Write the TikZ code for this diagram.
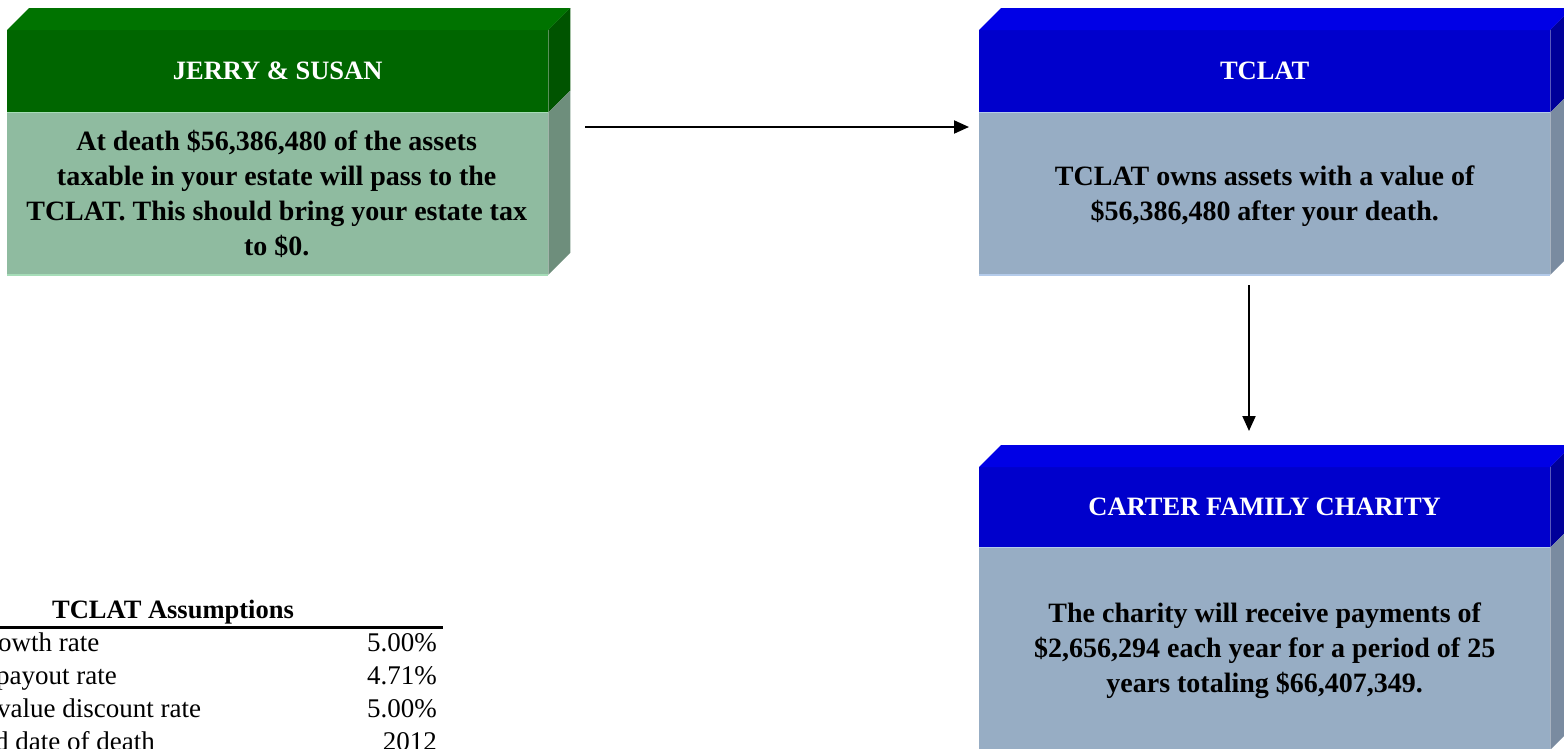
\documentclass[tikz,border=0pt]{standalone}
\usepackage{fontspec}
\setmainfont{Liberation Serif}
\usetikzlibrary{arrows.meta}
\definecolor{gtop}{HTML}{007300}
\definecolor{ghead}{HTML}{006600}
\definecolor{gheadside}{HTML}{005400}
\definecolor{gbody}{HTML}{8FBBA0}
\definecolor{gbodyside}{HTML}{6E8E7C}
\definecolor{gline}{HTML}{A6DDB8}
\definecolor{btop}{HTML}{0000E6}
\definecolor{bhead}{HTML}{0000CC}
\definecolor{bheadside}{HTML}{000099}
\definecolor{bbody}{HTML}{97ADC4}
\definecolor{bbodyside}{HTML}{7A8BA0}
\definecolor{bline}{HTML}{B4CBEA}
\tikzset{
  hdr/.style={inner sep=0pt, minimum width=541pt, minimum height=82pt, anchor=north west,
    text=white, font=\bfseries\fontsize{26.5}{32}\selectfont},
  bodybox/.style={inner sep=0pt, anchor=north west},
  bodytxt/.style={inner sep=0pt, align=center,
    text=black, font=\bfseries\fontsize{28}{35}\selectfont},
  conn/.style={line width=2pt, -{Triangle[length=15pt,width=13pt]}},
  tabtxt/.style={inner sep=0pt, font=\fontsize{27}{32}\selectfont},
  tabtitle/.style={inner sep=0pt, font=\bfseries\fontsize{26.5}{32}\selectfont},
}
\newcommand{\boxfaces}[6]{%
  % #1 header node, #2 body node, #3 top, #4 headside, #5 bodyside, #6 line
  \fill[#3] (#1.north west) -- ++(22,-22) -- ([shift={(22,-22)}]#1.north east) -- (#1.north east) -- cycle;
  \fill[#4] (#1.north east) -- ++(22,-22) -- ([shift={(22,-22)}]#1.south east) -- (#1.south east) -- cycle;
  \fill[#5] (#2.north east) -- ++(22,-22) -- ([shift={(22,-22)}]#2.south east) -- (#2.south east) -- cycle;
  \draw[#6, line width=1.5pt] (#2.north west) -- (#2.north east);
  \draw[#6, line width=1.5pt] (#2.south west) -- (#2.south east);
}
\begin{document}
\begin{tikzpicture}[x=1pt, y=-1pt]
\useasboundingbox (0,0) rectangle (1564,748);
\clip (0,0) rectangle (1564,748);
\fill[white] (0,0) rectangle (1564,748);

% Box 1: JERRY & SUSAN
\node[hdr, fill=ghead] (jh) at (7,30) {JERRY \& SUSAN};
\node[bodybox, fill=gbody, minimum width=541pt, minimum height=162pt] (jb) at (jh.south west) {};
\boxfaces{jh}{jb}{gtop}{gheadside}{gbodyside}{gline}
\node[bodytxt] (jt) at ([xshift=-1pt]jb.center)
  {At death \$56,386,480 of the assets\\taxable in your estate will pass to the\\TCLAT. This should bring your estate tax\\to \$0.};

% Box 2: TCLAT
\node[hdr, fill=bhead, minimum width=571pt] (th) at (979,30) {TCLAT};
\node[bodybox, fill=bbody, minimum width=571pt, minimum height=162pt] (tb) at (th.south west) {};
\boxfaces{th}{tb}{btop}{bheadside}{bbodyside}{bline}
\node[bodytxt] (tt2) at ([yshift=-2.5pt]tb.center)
  {TCLAT owns assets with a value of\\\$56,386,480 after your death.};

% Box 3: CARTER FAMILY CHARITY
\node[hdr, fill=bhead, minimum width=571pt, minimum height=80pt] (ch) at (979,467) {CARTER FAMILY CHARITY};
\node[bodybox, fill=bbody, minimum width=571pt, minimum height=202pt] (cb) at (ch.south west) {};
\boxfaces{ch}{cb}{btop}{bheadside}{bbodyside}{bline}
\node[bodytxt] (ct) at ([yshift=-2.5pt]cb.center)
  {The charity will receive payments of\\\$2,656,294 each year for a period of 25\\years totaling \$66,407,349.};

% Connectors
\coordinate (a1s) at (585,127);
\coordinate (a1e) at (969,127);
\coordinate (a2s) at (1249,285);
\coordinate (a2e) at (1249,431);
\draw[conn] (a1s) -- (a1e);
\draw[conn] (a2s) -- (a2e);

% Table
\node[tabtitle, anchor=base] (tt) at (173,618) {TCLAT Assumptions};
\coordinate (r0) at (0,627);
\coordinate (r1) at (443,627);
\draw[line width=3pt] (r0) -- (r1);
\node[tabtxt, anchor=base west] (l1) at (-2,651) {owth rate};
\node[tabtxt, anchor=base west] (l2) at (-4,684) {payout rate};
\node[tabtxt, anchor=base west] (l3) at (-3,717) {value discount rate};
\node[tabtxt, anchor=base west] (l4) at (-5,750) {d date of death};
\node[tabtxt, anchor=base east] (v1) at (437,651) {5.00\%};
\node[tabtxt, anchor=base east] (v2) at (437,684) {4.71\%};
\node[tabtxt, anchor=base east] (v3) at (437,717) {5.00\%};
\node[tabtxt, anchor=base east] (v4) at (437,750) {2012};
\end{tikzpicture}
\end{document}
